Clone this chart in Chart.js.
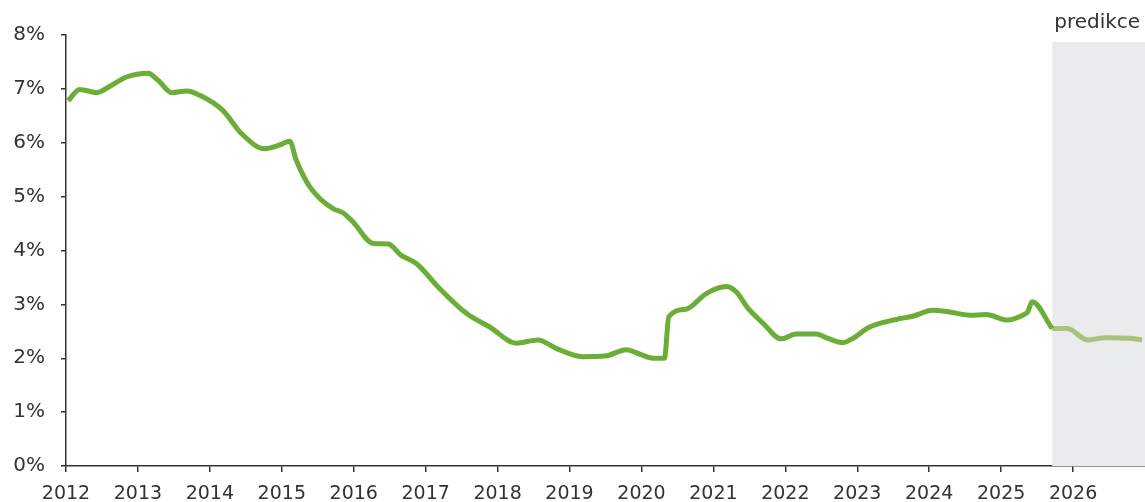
<!DOCTYPE html>
<html>
<head>
    <title>Úroková sazba</title>
    <script src="https://cdn.jsdelivr.net/npm/chart.js"></script>
    <style>
        html, body { margin: 0; padding: 0; background: #fff; }
        #chart-container { width: 1145px; height: 502px; }
    </style>
</head>
<body>
    <div id="chart-container">
        <canvas id="rateChart"></canvas>
    </div>
    <script>
        // Actual series (time as decimal year, value in %)
        const actualDates = [2012.03, 2012.19, 2012.43, 2012.61, 2012.84, 2013.14, 2013.28, 2013.47, 2013.68, 2013.86,
            2014.18, 2014.44, 2014.76, 2014.97, 2015.11, 2015.20, 2015.39, 2015.71, 2015.85, 2015.99,
            2016.27, 2016.48, 2016.66, 2016.87, 2017.19, 2017.57, 2017.89, 2018.26, 2018.56, 2018.82,
            2019.18, 2019.49, 2019.79, 2019.97, 2020.16, 2020.32, 2020.38, 2020.62, 2020.90, 2021.18,
            2021.32, 2021.48, 2021.69, 2021.94, 2022.15, 2022.43, 2022.59, 2022.80, 2022.94, 2023.17,
            2023.54, 2023.77, 2024.05, 2024.28, 2024.56, 2024.79, 2025.09, 2025.30, 2025.37, 2025.43, 2025.71];
        const actualValues = [6.78, 6.99, 6.93, 7.05, 7.22, 7.29, 7.16, 6.93, 6.96, 6.88,
            6.60, 6.17, 5.89, 5.96, 6.03, 5.68, 5.18, 4.78, 4.70, 4.53,
            4.13, 4.12, 3.91, 3.76, 3.30, 2.83, 2.58, 2.28, 2.34, 2.18,
            2.03, 2.04, 2.16, 2.08, 2.00, 2.00, 2.77, 2.91, 3.20, 3.33,
            3.23, 2.93, 2.65, 2.36, 2.45, 2.45, 2.37, 2.29, 2.37, 2.58,
            2.72, 2.78, 2.89, 2.86, 2.80, 2.81, 2.71, 2.80, 2.86, 3.05, 2.55];

        // Forecast ("predikce")
        const forecastDates = [2025.71, 2025.92, 2026.20, 2026.45, 2026.78, 2026.96];
        const forecastValues = [2.55, 2.55, 2.34, 2.38, 2.37, 2.34];

        const yearTicks = [2012, 2013, 2014, 2015, 2016, 2017, 2018, 2019, 2020, 2021, 2022, 2023, 2024, 2025, 2026];
        const forecastStart = 2025.71;
        const shadeTop = 7.87;
        const forecastLabel = 'predikce';

        const toPoints = (xs, ys) => xs.map((x, i) => ({ x: x, y: ys[i] }));

        const fontFamily = '"DejaVu Sans", Verdana, sans-serif';
        const textColor = '#333';

        // Grey band behind the forecast plus its caption
        const forecastBand = {
            id: 'forecastBand',
            beforeDatasetsDraw(chart) {
                const { ctx, chartArea, scales } = chart;
                const x0 = scales.x.getPixelForValue(forecastStart);
                const yTop = scales.y.getPixelForValue(shadeTop);
                ctx.save();
                ctx.fillStyle = '#eaebec';
                ctx.fillRect(x0, yTop, chartArea.right - x0, chartArea.bottom - yTop);
                ctx.fillStyle = textColor;
                ctx.font = '20px ' + fontFamily;
                ctx.textAlign = 'left';
                ctx.textBaseline = 'alphabetic';
                ctx.fillText(forecastLabel, x0 + 2, 28);
                ctx.restore();
            }
        };

        const ctx = document.getElementById('rateChart').getContext('2d');
        new Chart(ctx, {
            type: 'line',
            data: {
                datasets: [{
                    data: toPoints(actualDates, actualValues),
                    borderColor: '#6aae35',
                    borderWidth: 5,
                    pointRadius: 0,
                    fill: false,
                    cubicInterpolationMode: 'monotone'
                }, {
                    data: toPoints(forecastDates, forecastValues),
                    borderColor: '#aac37c',
                    borderWidth: 5,
                    pointRadius: 0,
                    fill: false,
                    cubicInterpolationMode: 'monotone'
                }]
            },
            options: {
                responsive: true,
                maintainAspectRatio: false,
                animation: false,
                layout: { padding: { top: 35, right: 0, bottom: 0, left: 0 } },
                plugins: {
                    legend: { display: false },
                    tooltip: { enabled: false }
                },
                scales: {
                    x: {
                        type: 'linear',
                        min: 2012,
                        max: 2027,
                        border: { color: '#333', width: 1.5 },
                        grid: { drawOnChartArea: false, tickLength: 6, color: '#333', lineWidth: 1.5 },
                        afterBuildTicks: scale => {
                            scale.ticks = yearTicks.map(v => ({ value: v }));
                        },
                        afterFit: scale => { scale.height = 36; },
                        ticks: {
                            autoSkip: false,
                            maxRotation: 0,
                            padding: 11,
                            color: textColor,
                            font: { family: fontFamily, size: 19 },
                            callback: v => String(v)
                        }
                    },
                    y: {
                        min: 0,
                        max: 8,
                        border: { color: '#333', width: 1.5 },
                        grid: { drawOnChartArea: false, tickLength: 5, color: '#333', lineWidth: 1.5 },
                        afterFit: scale => { scale.width = 66; },
                        ticks: {
                            stepSize: 1,
                            padding: 16,
                            color: textColor,
                            font: { family: fontFamily, size: 20 },
                            callback: v => v + '%'
                        }
                    }
                }
            },
            plugins: [forecastBand]
        });
    </script>
</body>
</html>
